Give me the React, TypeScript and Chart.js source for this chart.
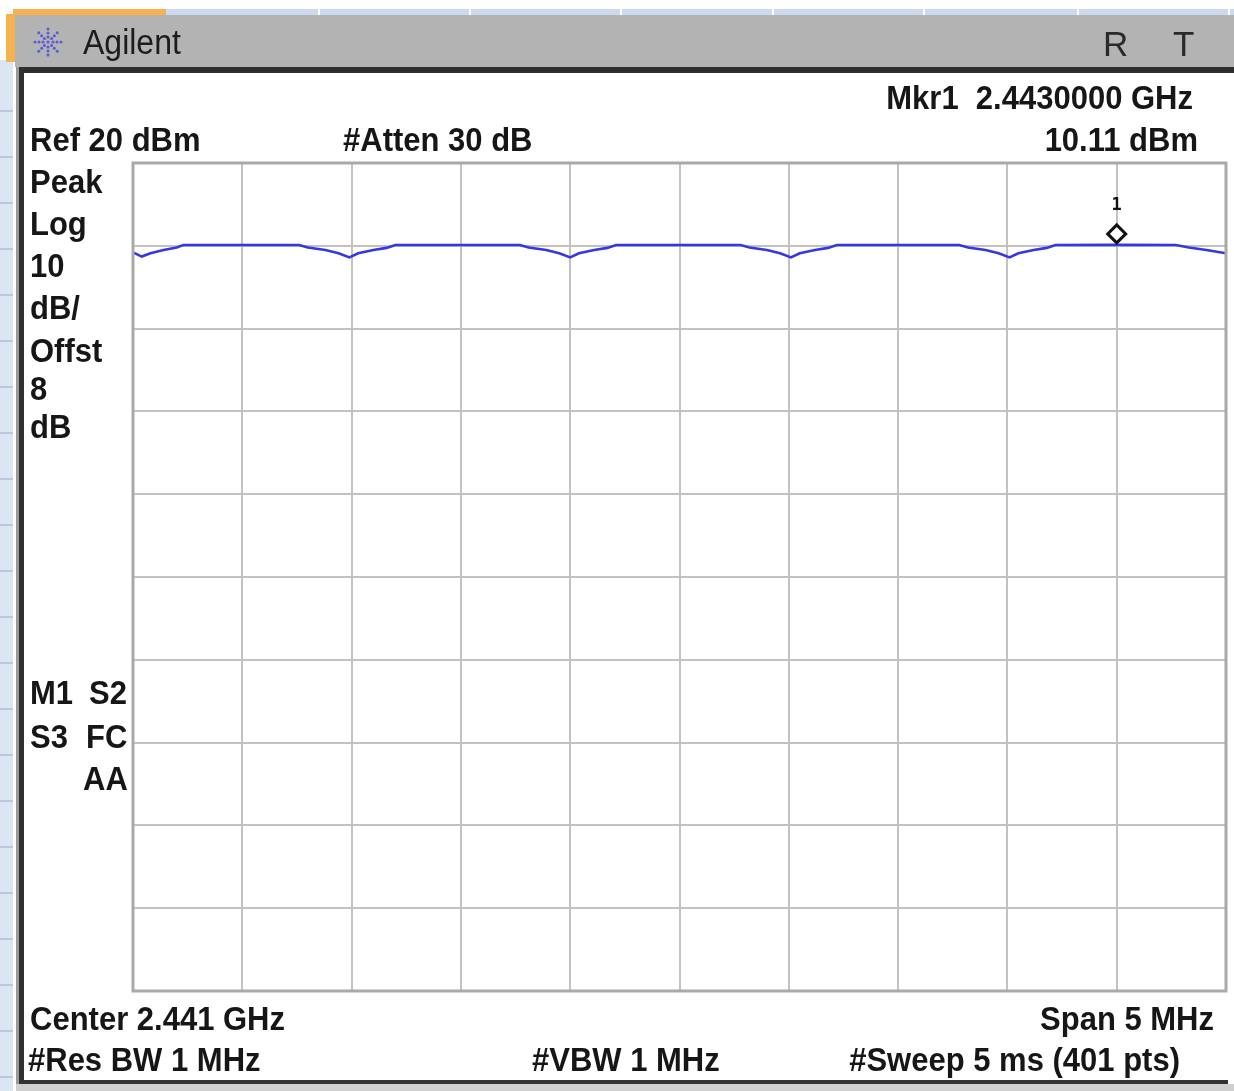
import React, { useEffect, useRef } from "react";
import { Chart, registerables } from "chart.js";

Chart.register(...registerables);

// ---- Data (frequency in MHz, level in dBm) ----
const freqMHz = [
  2438.5, 2438.54, 2438.58, 2438.64, 2438.7, 2438.73,
  2439.26, 2439.3, 2439.38, 2439.44, 2439.49, 2439.53, 2439.6, 2439.66, 2439.7,
  2440.27, 2440.31, 2440.39, 2440.45, 2440.5, 2440.54, 2440.61, 2440.67, 2440.71,
  2441.28, 2441.32, 2441.4, 2441.46, 2441.51, 2441.55, 2441.62, 2441.68, 2441.72,
  2442.28, 2442.32, 2442.4, 2442.46, 2442.51, 2442.55, 2442.62, 2442.68, 2442.72,
  2443.0,
  2443.27, 2443.33, 2443.41, 2443.5,
];
const levelDbm = [
  9.2, 8.7, 9.1, 9.5, 9.8, 10.1,
  10.1, 9.8, 9.5, 9.1, 8.6, 9.1, 9.5, 9.75, 10.1,
  10.1, 9.8, 9.5, 9.1, 8.6, 9.1, 9.5, 9.75, 10.1,
  10.1, 9.8, 9.5, 9.1, 8.6, 9.1, 9.5, 9.75, 10.1,
  10.1, 9.8, 9.5, 9.1, 8.6, 9.1, 9.5, 9.75, 10.1,
  10.11,
  10.1, 9.8, 9.5, 9.1,
];

const centerMHz = 2441;
const spanMHz = 5;
const refLevelDbm = 20;
const dbPerDiv = 10;
const divisions = 10;

const markerFreqMHz = 2443.0;
const markerLevelDbm = 10.11;
const markerLabel = "1";

const leftLabels = ["Peak", "Log", "10", "dB/", "Offst", "8", "dB"];
const leftLabelY = [181, 223, 265, 307, 350, 388, 426];

const FONT = '"Liberation Sans", Arial, Helvetica, sans-serif';

type LabelProps = {
  x: number;
  y: number;
  text: string;
  align?: "left" | "right";
  size?: number;
  weight?: string;
  color?: string;
  sy?: number;
};

function Label({ x, y, text, align = "left", size = 31, weight = "bold", color = "#161616", sy = 1.08 }: LabelProps) {
  const style: React.CSSProperties = {
    position: "absolute",
    top: y - size / 2,
    height: size,
    lineHeight: `${size}px`,
    fontFamily: FONT,
    fontSize: size,
    fontWeight: weight as any,
    color,
    whiteSpace: "pre",
    transform: `scaleY(${sy})`,
    transformOrigin: "center",
    zIndex: 5,
  };
  if (align === "left") style.left = x;
  else style.right = 1234 - x;
  return <div style={style}>{text}</div>;
}

function Logo() {
  const dots: JSX.Element[] = [];
  for (let k = 0; k < 8; k++) {
    const a = (k * Math.PI) / 4;
    [5, 9, 13].forEach((r, j) => {
      dots.push(
        <circle key={`${k}-${j}`} cx={16 + r * Math.cos(a)} cy={16 + r * Math.sin(a)} r={1.5} fill="#5a5ad8" />
      );
    });
  }
  dots.push(<circle key="c" cx={16} cy={16} r={1.6} fill="#5a5ad8" />);
  return (
    <svg width={32} height={32} style={{ position: "absolute", left: 32, top: 26, zIndex: 5 }}>
      {dots}
    </svg>
  );
}

const markerPlugin = {
  id: "markerPlugin",
  afterDraw(chart: any) {
    const { ctx, scales, chartArea } = chart;
    // outer grid frame
    ctx.save();
    ctx.strokeStyle = "#a9a9a9";
    ctx.lineWidth = 3;
    ctx.strokeRect(chartArea.left, chartArea.top, chartArea.right - chartArea.left, chartArea.bottom - chartArea.top);
    // marker
    const px = scales.x.getPixelForValue(markerFreqMHz);
    const py = scales.y.getPixelForValue(markerLevelDbm);
    const cy = py - 11;
    ctx.beginPath();
    ctx.moveTo(px, cy - 9);
    ctx.lineTo(px + 9, cy);
    ctx.lineTo(px, cy + 9);
    ctx.lineTo(px - 9, cy);
    ctx.closePath();
    ctx.fillStyle = "#ffffff";
    ctx.fill();
    ctx.strokeStyle = "#111111";
    ctx.lineWidth = 3;
    ctx.stroke();
    ctx.fillStyle = "#111111";
    ctx.font = 'bold 17px "DejaVu Sans Mono", monospace';
    ctx.textAlign = "center";
    ctx.textBaseline = "middle";
    ctx.fillText(markerLabel, px, py - 39);
    ctx.restore();
  },
};

export default function App() {
  const canvasRef = useRef<HTMLCanvasElement | null>(null);

  useEffect(() => {
    if (!canvasRef.current) return;
    const points = freqMHz.map((f, i) => ({ x: f, y: levelDbm[i] }));
    const chart = new Chart(canvasRef.current, {
      type: "line",
      data: {
        datasets: [
          {
            data: points,
            borderColor: "#3636e6",
            borderWidth: 2.6,
            pointRadius: 0,
            tension: 0,
            fill: false,
          },
        ],
      },
      options: {
        animation: false,
        responsive: false,
        devicePixelRatio: 1,
        layout: { padding: { left: 133, top: 163, right: 8, bottom: 100 } },
        plugins: { legend: { display: false }, tooltip: { enabled: false } },
        scales: {
          x: {
            type: "linear",
            min: centerMHz - spanMHz / 2,
            max: centerMHz + spanMHz / 2,
            ticks: { display: false, stepSize: spanMHz / divisions },
            grid: { color: "#c2c2c2", lineWidth: 2, drawTicks: false },
            border: { display: false },
          },
          y: {
            type: "linear",
            min: refLevelDbm - dbPerDiv * divisions,
            max: refLevelDbm,
            ticks: { display: false, stepSize: dbPerDiv },
            grid: { color: "#c2c2c2", lineWidth: 2, drawTicks: false },
            border: { display: false },
          },
        },
      },
      plugins: [markerPlugin],
    });
    return () => chart.destroy();
  }, []);

  const leftTicks: JSX.Element[] = [];
  for (let y = 110; y < 1091; y += 46) {
    leftTicks.push(
      <div key={y} style={{ position: "absolute", left: 0, top: y, width: 13, height: 2, background: "#b9c8dc" }} />
    );
  }
  const topSeps: JSX.Element[] = [];
  [318, 469, 620, 772, 923, 1077, 1228].forEach((x) =>
    topSeps.push(<div key={x} style={{ position: "absolute", left: x, top: 9, width: 2, height: 7, background: "#ffffff" }} />)
  );

  return (
    <div style={{ position: "absolute", left: 0, top: 0, width: 1234, height: 1091, background: "#ffffff", overflow: "hidden" }}>
      {/* left light-blue column */}
      <div style={{ position: "absolute", left: 0, top: 60, width: 13, height: 1031, background: "#dce6f3" }} />
      {leftTicks}
      {/* top light-blue strip */}
      <div style={{ position: "absolute", left: 166, top: 9, width: 1068, height: 7, background: "#cbdaee" }} />
      {topSeps}
      {/* orange tab */}
      <div style={{ position: "absolute", left: 13, top: 9, width: 153, height: 6, background: "#f6b24e" }} />
      <div style={{ position: "absolute", left: 6, top: 14, width: 9, height: 48, background: "#f6b24e" }} />
      {/* gray title bar */}
      <div style={{ position: "absolute", left: 15, top: 15, width: 1219, height: 52, background: "#b3b3b3" }} />
      {/* dark frame */}
      <div style={{ position: "absolute", left: 16, top: 67, width: 1218, height: 6, background: "#2e2e2e" }} />
      <div style={{ position: "absolute", left: 16, top: 67, width: 3, height: 1018, background: "#9a9a9a" }} />
      <div style={{ position: "absolute", left: 19, top: 67, width: 5, height: 1018, background: "#303030" }} />
      <div style={{ position: "absolute", left: 19, top: 1080, width: 1209, height: 4, background: "#333333" }} />
      <div style={{ position: "absolute", left: 16, top: 1084, width: 1218, height: 7, background: "#cfcfcf" }} />

      <canvas ref={canvasRef} width={1234} height={1091} style={{ position: "absolute", left: 0, top: 0, zIndex: 3 }} />

      <Logo />
      <Label x={83} y={42} text="Agilent" size={32} weight="normal" color="#1c1c1c" sy={1.12} />
      <Label x={1103} y={43} text="R" size={35} weight="normal" color="#2a2a2a" sy={1.0} />
      <Label x={1173} y={43} text="T" size={35} weight="normal" color="#2a2a2a" sy={1.0} />

      <Label x={1193} y={97} text="Mkr1  2.4430000 GHz" align="right" />
      <Label x={30} y={139} text="Ref 20 dBm" />
      <Label x={343} y={139} text="#Atten 30 dB" />
      <Label x={1198} y={139} text="10.11 dBm" align="right" />

      {leftLabels.map((t, i) => (
        <Label key={t + i} x={30} y={leftLabelY[i]} text={t} />
      ))}

      <Label x={30} y={692} text="M1" />
      <Label x={89} y={692} text="S2" />
      <Label x={30} y={736} text="S3" />
      <Label x={86} y={736} text="FC" />
      <Label x={83} y={778} text="AA" />

      <Label x={30} y={1018} text="Center 2.441 GHz" />
      <Label x={1214} y={1018} text="Span 5 MHz" align="right" />
      <Label x={28} y={1059} text="#Res BW 1 MHz" />
      <Label x={532} y={1059} text="#VBW 1 MHz" />
      <Label x={1180} y={1059} text="#Sweep 5 ms (401 pts)" align="right" />
    </div>
  );
}
